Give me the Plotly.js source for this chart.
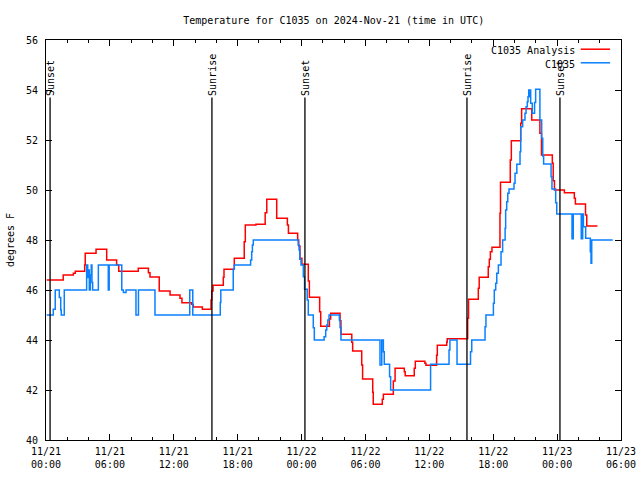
<!DOCTYPE html>
<html>
<head>
<meta charset="utf-8">
<script src="https://cdn.plot.ly/plotly-3.0.1.min.js"></script>
<style>html,body{margin:0;padding:0;background:#fff;}#chart{width:640px;height:480px;}</style>
</head>
<body>
<div id="chart"></div>
<script>
// ---- data ----
const analysisTimes = [
 '2024-11-21 00:04','2024-11-21 01:37','2024-11-21 02:34','2024-11-21 02:45','2024-11-21 03:38','2024-11-21 03:41',
 '2024-11-21 04:42','2024-11-21 05:42','2024-11-21 06:38','2024-11-21 06:50','2024-11-21 08:40','2024-11-21 09:37',
 '2024-11-21 09:46','2024-11-21 10:38','2024-11-21 11:39','2024-11-21 12:35','2024-11-21 12:46','2024-11-21 13:41',
 '2024-11-21 13:50','2024-11-21 14:41','2024-11-21 15:30','2024-11-21 15:34','2024-11-21 15:41','2024-11-21 16:39',
 '2024-11-21 16:43','2024-11-21 17:41','2024-11-21 18:37','2024-11-21 18:43','2024-11-21 19:43','2024-11-21 20:35',
 '2024-11-21 20:44','2024-11-21 21:40','2024-11-21 22:40','2024-11-21 22:46','2024-11-21 23:38','2024-11-21 23:44',
 '2024-11-21 23:51','2024-11-22 00:02','2024-11-22 00:38','2024-11-22 00:44','2024-11-22 01:42','2024-11-22 01:48',
 '2024-11-22 02:37','2024-11-22 02:44','2024-11-22 03:37','2024-11-22 03:42','2024-11-22 04:43','2024-11-22 04:48',
 '2024-11-22 05:39','2024-11-22 05:44','2024-11-22 06:41','2024-11-22 06:44','2024-11-22 07:35','2024-11-22 07:41',
 '2024-11-22 08:37','2024-11-22 08:47','2024-11-22 09:39','2024-11-22 09:44','2024-11-22 10:35','2024-11-22 10:41',
 '2024-11-22 11:35','2024-11-22 11:41','2024-11-22 12:41','2024-11-22 12:45','2024-11-22 13:38','2024-11-22 13:41',
 '2024-11-22 15:36','2024-11-22 15:41','2024-11-22 16:36','2024-11-22 16:41','2024-11-22 17:32','2024-11-22 17:38',
 '2024-11-22 17:44','2024-11-22 17:53','2024-11-22 18:38','2024-11-22 18:41','2024-11-22 19:36','2024-11-22 19:42',
 '2024-11-22 20:35','2024-11-22 20:40','2024-11-22 21:37','2024-11-22 22:23','2024-11-22 22:32','2024-11-22 23:33',
 '2024-11-22 23:38','2024-11-22 23:45','2024-11-23 00:41','2024-11-23 01:37','2024-11-23 01:43','2024-11-23 02:40',
 '2024-11-23 02:47','2024-11-23 03:43'
];
const analysisTemps = [
 46.4,46.6,46.67,46.75,47.0,47.47,
 47.63,47.2,47.0,46.75,46.87,46.69,
 46.52,45.96,45.8,45.67,45.49,45.43,
 45.32,45.23,45.6,45.96,46.19,46.51,
 46.83,47.27,47.93,48.6,48.63,49.09,
 49.63,48.87,48.6,48.27,48.0,47.76,
 47.27,47.03,46.36,45.71,45.13,44.55,
 44.84,45.07,44.77,44.23,43.91,43.56,
 43.0,42.44,41.91,41.43,41.63,41.83,
 42.36,42.87,42.73,42.57,42.87,43.15,
 43.07,42.99,43.39,43.79,43.92,44.05,
 44.87,45.63,46.07,46.51,46.93,47.23,
 47.53,47.71,49.07,50.31,51.2,51.97,
 52.67,53.25,52.8,52.27,51.4,51.07,
 50.37,50.0,49.89,49.67,49.44,49.0,
 48.56,48.53
];
const stationTimes = [
 '2024-11-21 00:04','2024-11-21 00:41','2024-11-21 00:52','2024-11-21 01:15','2024-11-21 01:23','2024-11-21 01:26',
 '2024-11-21 01:43','2024-11-21 03:49','2024-11-21 03:55','2024-11-21 03:59','2024-11-21 04:04','2024-11-21 04:10',
 '2024-11-21 04:15','2024-11-21 04:19','2024-11-21 04:23','2024-11-21 04:55','2024-11-21 05:51','2024-11-21 05:56',
 '2024-11-21 07:07','2024-11-21 07:16','2024-11-21 07:31','2024-11-21 08:27','2024-11-21 08:41','2024-11-21 10:14',
 '2024-11-21 13:30','2024-11-21 13:47','2024-11-21 16:22','2024-11-21 16:25','2024-11-21 17:35','2024-11-21 17:41',
 '2024-11-21 19:13','2024-11-21 19:19','2024-11-21 19:23','2024-11-21 19:28','2024-11-21 23:41','2024-11-21 23:46',
 '2024-11-21 23:50','2024-11-21 23:57','2024-11-22 00:10','2024-11-22 00:17','2024-11-22 00:32','2024-11-22 00:38',
 '2024-11-22 01:06','2024-11-22 01:12','2024-11-22 02:07','2024-11-22 02:16','2024-11-22 02:22','2024-11-22 02:28',
 '2024-11-22 02:35','2024-11-22 03:33','2024-11-22 03:37','2024-11-22 03:42','2024-11-22 07:22','2024-11-22 07:32',
 '2024-11-22 07:41','2024-11-22 07:46','2024-11-22 08:16','2024-11-22 08:22','2024-11-22 12:07','2024-11-22 13:51',
 '2024-11-22 13:56','2024-11-22 14:36','2024-11-22 15:52','2024-11-22 15:59','2024-11-22 17:14','2024-11-22 17:19',
 '2024-11-22 18:01','2024-11-22 18:06','2024-11-22 18:14','2024-11-22 18:20','2024-11-22 18:29','2024-11-22 18:44',
 '2024-11-22 18:53','2024-11-22 19:07','2024-11-22 19:10','2024-11-22 19:16','2024-11-22 19:22','2024-11-22 19:29',
 '2024-11-22 19:57','2024-11-22 20:03','2024-11-22 20:13','2024-11-22 20:31','2024-11-22 20:35','2024-11-22 20:46',
 '2024-11-22 20:59','2024-11-22 21:05','2024-11-22 21:12','2024-11-22 21:16','2024-11-22 21:20','2024-11-22 21:23',
 '2024-11-22 21:26','2024-11-22 21:31','2024-11-22 21:40','2024-11-22 21:53','2024-11-22 21:59','2024-11-22 22:23',
 '2024-11-22 22:33','2024-11-22 22:39','2024-11-22 22:44','2024-11-22 23:26','2024-11-22 23:31','2024-11-22 23:52',
 '2024-11-22 23:58','2024-11-23 01:24','2024-11-23 01:31','2024-11-23 02:16','2024-11-23 02:24','2024-11-23 02:28',
 '2024-11-23 02:41','2024-11-23 03:07','2024-11-23 03:11','2024-11-23 03:15','2024-11-23 05:13'
];
const stationTemps = [
 45,45.23,46,45.7,45.2,45,
 46,47,46.5,46.8,46,46.6,
 47,46.3,46,47,46,47,
 46,45.9,46,45,46,45,
 46,45,45.5,46,46.83,47,
 47.2,47.53,47.8,48,47.8,47.6,
 47.23,47.0,46.53,46.03,45.6,45.0,
 44.49,44.0,44.13,44.4,44.6,44.8,
 45.0,44.8,44.5,44.0,43.0,44.0,
 43.53,43.03,42.53,42.0,43.03,43.6,
 44.0,43.03,43.53,44.0,44.53,45.0,
 45.47,46.0,46.27,46.67,47.0,47.53,
 48.0,48.47,49.2,49.53,49.87,50.04,
 50.27,50.67,51.03,51.53,52.53,52.8,
 53.07,53.33,53.53,53.73,54.0,53.73,
 54.0,53.47,53.07,53.5,54.03,52.8,
 52.07,51.36,51.04,50.53,50.04,49.49,
 49.04,48.05,49.04,48.05,49.04,48.53,
 48.07,47.53,47.07,48.0,48.0
];
const sunTimes = ['2024-11-21 00:23','2024-11-21 15:35','2024-11-22 00:19','2024-11-22 15:32','2024-11-23 00:16'];
const sunLabels = ['Sunset','Sunrise','Sunset','Sunrise','Sunset'];
const seriesNames = ['C1035 Analysis','C1035'];
const seriesColors = ['#ff0000','#0a80ff'];
const yTicks = [40,42,44,46,48,50,52,54,56];

// ---- chart ----
const FONT = 'DejaVu Sans Mono, Liberation Mono, monospace';
const traces = [
  {x: analysisTimes, y: analysisTemps, name: seriesNames[0], type: 'scatter', mode: 'lines',
   line: {shape: 'hv', color: seriesColors[0], width: 1.5}, showlegend: false},
  {x: stationTimes, y: stationTemps, name: seriesNames[1], type: 'scatter', mode: 'lines',
   line: {shape: 'hv', color: seriesColors[1], width: 1.5}, showlegend: false}
];

const shapes = sunTimes.map(t => ({type: 'line', xref: 'x', yref: 'y', x0: t, x1: t, y0: 40, y1: 53.7,
  line: {color: '#000', width: 1.3}}));
const annotations = sunTimes.map((t, i) => ({xref: 'x', yref: 'y', x: t, y: 53.72, text: sunLabels[i],
  textangle: -90, showarrow: false, xanchor: 'center', yanchor: 'bottom', borderpad: 0,
  font: {family: FONT, size: 10, color: '#000'}}));
// legend (text right-aligned, sample line to the right)
const legY = [0.974, 0.940];
seriesNames.forEach((n, i) => {
  annotations.push({xref: 'paper', yref: 'paper', x: 0.921, y: legY[i], text: n, showarrow: false,
    xanchor: 'right', yanchor: 'middle', borderpad: 0, font: {family: FONT, size: 10, color: '#000'}});
  shapes.push({type: 'line', xref: 'paper', yref: 'paper', x0: 0.930, x1: 0.981, y0: legY[i] + 0.003, y1: legY[i] + 0.003,
    line: {color: seriesColors[i], width: 1.5}});
});

const layout = {
  width: 640, height: 480,
  margin: {l: 46, r: 19, t: 40, b: 40, pad: 0},
  paper_bgcolor: '#fff', plot_bgcolor: '#fff',
  font: {family: FONT, size: 10, color: '#000'},
  title: {text: 'Temperature for C1035 on 2024-Nov-21 (time in UTC)', x: 0.5214, xanchor: 'center',
          y: 0.958, yanchor: 'middle', yref: 'container', font: {family: FONT, size: 10, color: '#000'}},
  showlegend: false,
  xaxis: {type: 'date', range: ['2024-11-21 00:00', '2024-11-23 06:00'],
    tick0: '2024-11-21 00:00', dtick: 6 * 3600000, tickformat: '%m/%d<br>%H:%M',
    ticks: 'inside', ticklen: 6, tickcolor: '#000', tickwidth: 1, ticklabelstandoff: 2,
    minor: {dtick: 2 * 3600000, ticks: 'inside', ticklen: 3, tickcolor: '#000'},
    showline: true, linecolor: '#000', linewidth: 1, mirror: 'ticks',
    showgrid: false, zeroline: false, tickfont: {family: FONT, size: 10}},
  yaxis: {range: [40, 56], tickvals: yTicks, ticks: 'inside', ticklen: 6, tickcolor: '#000',
    ticklabelstandoff: 5,
    showline: true, linecolor: '#000', linewidth: 1, mirror: 'ticks',
    showgrid: false, zeroline: false, tickfont: {family: FONT, size: 10},
    title: {text: 'degrees F', standoff: 9, font: {family: FONT, size: 10}}},
  shapes: shapes,
  annotations: annotations
};

Plotly.newPlot('chart', traces, layout, {staticPlot: true, displayModeBar: false});
</script>
</body>
</html>
